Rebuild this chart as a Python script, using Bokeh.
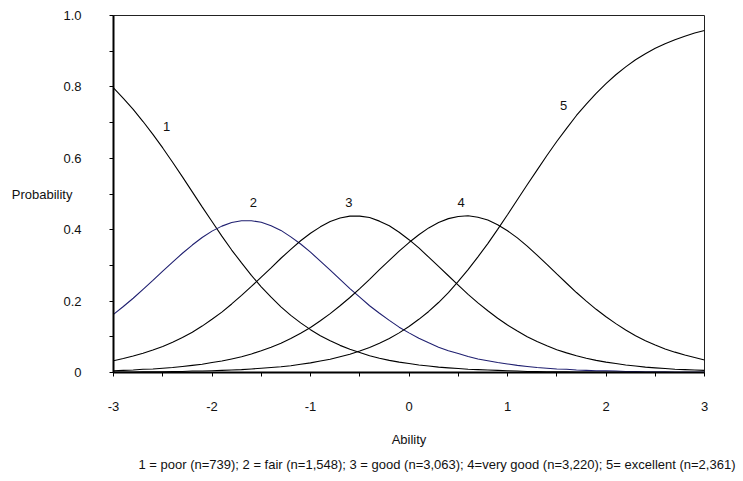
from bokeh.plotting import figure
from bokeh.models import Range1d, FixedTicker, Title, ColumnDataSource
from bokeh.core.properties import value
from bokeh.embed import file_html
from bokeh.resources import INLINE

# Ability grid and category response probabilities
ability = [-3.0, -2.9, -2.8, -2.7, -2.6, -2.5, -2.4, -2.3, -2.2, -2.1,
           -2.0, -1.9, -1.8, -1.7, -1.6, -1.5, -1.4, -1.3, -1.2, -1.1,
           -1.0, -0.9, -0.8, -0.7, -0.6, -0.5, -0.4, -0.3, -0.2, -0.1,
           0.0, 0.1, 0.2, 0.3, 0.4, 0.5, 0.6, 0.7, 0.8, 0.9,
           1.0, 1.1, 1.2, 1.3, 1.4, 1.5, 1.6, 1.7, 1.8, 1.9,
           2.0, 2.1, 2.2, 2.3, 2.4, 2.5, 2.6, 2.7, 2.8, 2.9, 3.0]
poor = [0.797, 0.768, 0.737, 0.703, 0.667, 0.629, 0.589, 0.548, 0.506, 0.464,
        0.423, 0.382, 0.343, 0.307, 0.272, 0.240, 0.211, 0.184, 0.160, 0.139,
        0.120, 0.103, 0.089, 0.076, 0.065, 0.056, 0.047, 0.040, 0.034, 0.029,
        0.025, 0.021, 0.018, 0.015, 0.013, 0.011, 0.009, 0.008, 0.007, 0.006,
        0.005, 0.004, 0.003, 0.003, 0.002, 0.002, 0.002, 0.001, 0.001, 0.001,
        0.001, 0.001, 0.001, 0.001, 0.000, 0.000, 0.000, 0.000, 0.000, 0.000, 0.000]
fair = [0.163, 0.185, 0.208, 0.233, 0.258, 0.284, 0.309, 0.334, 0.357, 0.378,
        0.396, 0.410, 0.420, 0.425, 0.425, 0.421, 0.411, 0.398, 0.380, 0.360,
        0.337, 0.312, 0.287, 0.261, 0.235, 0.211, 0.187, 0.166, 0.146, 0.127,
        0.111, 0.096, 0.083, 0.071, 0.061, 0.053, 0.045, 0.038, 0.033, 0.028,
        0.024, 0.020, 0.017, 0.014, 0.012, 0.010, 0.009, 0.007, 0.006, 0.005,
        0.005, 0.004, 0.003, 0.003, 0.002, 0.002, 0.002, 0.001, 0.001, 0.001, 0.001]
good = [0.033, 0.039, 0.046, 0.054, 0.063, 0.073, 0.085, 0.098, 0.113, 0.130,
        0.149, 0.169, 0.192, 0.216, 0.241, 0.267, 0.293, 0.320, 0.345, 0.369,
        0.390, 0.408, 0.423, 0.433, 0.438, 0.438, 0.434, 0.424, 0.411, 0.393,
        0.372, 0.349, 0.323, 0.297, 0.271, 0.245, 0.219, 0.195, 0.173, 0.152,
        0.133, 0.116, 0.100, 0.087, 0.075, 0.064, 0.055, 0.047, 0.040, 0.034,
        0.029, 0.025, 0.021, 0.018, 0.015, 0.013, 0.011, 0.009, 0.008, 0.007, 0.006]
very_good = [0.005, 0.006, 0.007, 0.009, 0.010, 0.012, 0.014, 0.017, 0.020, 0.023,
             0.028, 0.032, 0.038, 0.044, 0.052, 0.061, 0.071, 0.082, 0.095, 0.110,
             0.126, 0.145, 0.165, 0.187, 0.210, 0.235, 0.261, 0.288, 0.314, 0.340,
             0.364, 0.386, 0.405, 0.420, 0.431, 0.437, 0.439, 0.435, 0.427, 0.414,
             0.397, 0.377, 0.354, 0.329, 0.303, 0.276, 0.250, 0.224, 0.200, 0.177,
             0.156, 0.137, 0.119, 0.103, 0.089, 0.077, 0.066, 0.057, 0.049, 0.042, 0.035]
excellent = [0.001, 0.001, 0.001, 0.002, 0.002, 0.002, 0.003, 0.003, 0.004, 0.004,
             0.005, 0.006, 0.007, 0.008, 0.010, 0.012, 0.014, 0.016, 0.019, 0.023,
             0.027, 0.032, 0.037, 0.044, 0.051, 0.060, 0.070, 0.082, 0.095, 0.111,
             0.129, 0.149, 0.171, 0.196, 0.224, 0.255, 0.288, 0.324, 0.361, 0.401,
             0.442, 0.484, 0.526, 0.567, 0.608, 0.647, 0.684, 0.720, 0.752, 0.782,
             0.809, 0.834, 0.856, 0.876, 0.893, 0.908, 0.921, 0.932, 0.942, 0.951, 0.958]

curve_names = ["1", "2", "3", "4", "5"]
label_x = [-2.46, -1.58, -0.61, 0.53, 1.57]
label_y = [0.689, 0.477, 0.477, 0.477, 0.747]

x_ticks = [-3, -2, -1, 0, 1, 2, 3]
x_tick_labels = ["-3", "-2", "-1", "0", "1", "2", "3"]
x_minor = [-2.5, -1.5, -0.5, 0.5, 1.5, 2.5]
y_ticks = [0, 0.2, 0.4, 0.6, 0.8, 1.0]
y_tick_labels = ["0", "0.2", "0.4", "0.6", "0.8", "1.0"]
y_minor = [0.1, 0.3, 0.5, 0.7, 0.9]

footnote = ("1 = poor (n=739); 2 = fair (n=1,548); 3 = good (n=3,063); "
            "4=very good (n=3,220); 5= excellent (n=2,361)")

FONT = "Liberation Sans"
TXT = "#111111"

p = figure(width=740, height=478, output_backend="svg", toolbar_location=None,
           x_range=Range1d(-3, 3), y_range=Range1d(0, 1.0),
           min_border_left=113, min_border_right=36, min_border_top=15,
           min_border_bottom=106)
p.grid.visible = False
p.background_fill_color = "white"
p.border_fill_color = "white"
p.outline_line_color = "#222222"
p.outline_line_width = 1
p.outline_line_alpha = 1.0

series = [poor, fair, good, very_good, excellent]
colors = ["black", "#1f1f70", "black", "black", "black"]
for ys, c in zip(series, colors):
    src = ColumnDataSource(dict(x=ability, y=ys))
    p.line("x", "y", source=src, line_color=c, line_width=1.1)

p.text(x=label_x, y=label_y, text=curve_names, text_font=value(FONT),
       text_font_size="13px", text_align="center", text_baseline="middle",
       text_color=TXT)

for ax in (p.xaxis[0], p.yaxis[0]):
    ax.axis_line_width = 2
    ax.axis_line_color = "black"
    ax.major_tick_line_color = "black"
    ax.minor_tick_line_color = "black"
    ax.major_tick_in = 0
    ax.major_tick_out = 4
    ax.minor_tick_in = 0
    ax.minor_tick_out = 4
    ax.major_label_text_font = FONT
    ax.major_label_text_font_size = "13px"
    ax.major_label_text_color = TXT
    ax.axis_label_text_font = FONT
    ax.axis_label_text_font_size = "13px"
    ax.axis_label_text_font_style = "normal"
    ax.axis_label_text_color = TXT

p.xaxis.ticker = FixedTicker(ticks=x_ticks, minor_ticks=x_minor)
p.yaxis.ticker = FixedTicker(ticks=y_ticks, minor_ticks=y_minor)
p.xaxis.major_label_overrides = dict(zip(x_ticks, x_tick_labels))
p.yaxis.major_label_overrides = dict(zip(y_ticks, y_tick_labels))
p.xaxis.major_label_standoff = 25
p.yaxis.major_label_standoff = 28

p.xaxis.axis_label = "Ability"
p.xaxis.axis_label_standoff = 18

p.yaxis.axis_label = "Probability"
p.yaxis.axis_label_orientation = "horizontal"
p.yaxis.axis_label_standoff = -12

p.add_layout(Title(text=footnote, align="left", offset=25, standoff=10,
                   text_font=FONT, text_font_size="13px",
                   text_font_style="normal", text_color=TXT), "below")

open("out.html", "w").write(file_html(p, INLINE))
